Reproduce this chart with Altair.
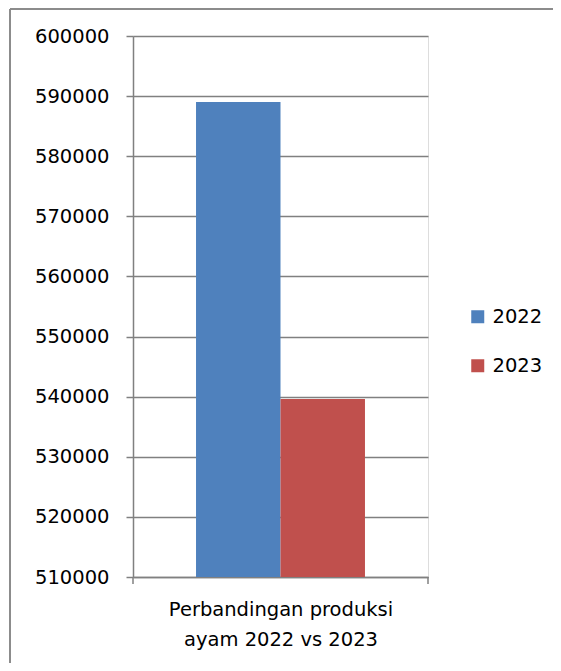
import altair as alt
import pandas as pd

kategori = ["Perbandingan produksi ayam 2022 vs 2023"]
tahun = ["2022", "2023"]
nilai = [589000, 539600]
warna = ["#4F81BD", "#C0504D"]
y_ticks = [510000, 520000, 530000, 540000, 550000, 560000, 570000, 580000, 590000, 600000]

df = pd.DataFrame({"kategori": kategori * len(tahun), "tahun": tahun, "nilai": nilai})

FONT = "DejaVu Sans"
W, H = 295, 541
GRAY = "#808080"

bars = alt.Chart(df).mark_bar(clip=True).encode(
    x=alt.X("kategori:N",
            scale=alt.Scale(paddingInner=0, paddingOuter=0.373),
            axis=alt.Axis(labels=False, ticks=False, domain=True, domainColor=GRAY,
                          domainWidth=1.5, grid=False,
                          title=["Perbandingan produksi", "ayam 2022 vs 2023"],
                          titleFont=FONT, titleFontSize=19.5, titleFontWeight="normal",
                          titleColor="black", titlePadding=23, titleLineHeight=30)),
    xOffset=alt.XOffset("tahun:N", scale=alt.Scale(domain=tahun, paddingInner=0, paddingOuter=0)),
    y=alt.Y("nilai:Q",
            scale=alt.Scale(domain=[510000, 600000], nice=False, zero=False),
            axis=alt.Axis(values=y_ticks, format="d", title=None, grid=True,
                          gridColor=GRAY, gridWidth=1.5, domainColor=GRAY, domainWidth=1.5,
                          tickColor=GRAY, tickWidth=1.5, tickSize=7, labelPadding=17,
                          labelFont=FONT, labelFontSize=19.5, labelColor="black")),
    color=alt.Color("tahun:N",
                    scale=alt.Scale(domain=tahun, range=warna),
                    legend=alt.Legend(orient="none", legendX=335, legendY=271, title=None,
                                      symbolType="square", symbolSize=169, symbolStrokeWidth=0,
                                      labelFont=FONT, labelFontSize=19.5, labelColor="black",
                                      labelOffset=5, rowPadding=28)),
)

one = pd.DataFrame({"k": [0]})

tick_l = alt.Chart(one).mark_rule(color=GRAY, strokeWidth=1.5).encode(
    x=alt.value(0), y=alt.value(H), y2=alt.value(H + 7))
tick_r = alt.Chart(one).mark_rule(color=GRAY, strokeWidth=1.5).encode(
    x=alt.value(W), y=alt.value(H), y2=alt.value(H + 7))
border_top = alt.Chart(one).mark_rule(color="#8c8c8c", strokeWidth=2).encode(
    x=alt.value(-123), x2=alt.value(460), y=alt.value(-27))
border_left = alt.Chart(one).mark_rule(color="#8c8c8c", strokeWidth=2).encode(
    x=alt.value(-123), y=alt.value(-27), y2=alt.value(680))

chart = alt.layer(bars, tick_l, tick_r, border_top, border_left).properties(
    width=W, height=H,
    autosize=alt.AutoSizeParams(type="none"),
    padding={"left": 125, "top": 28, "right": 125, "bottom": 86},
).configure_view(stroke=None).configure(background="white")

chart.save("out.html", embed_options={"renderer": "svg", "actions": False})
